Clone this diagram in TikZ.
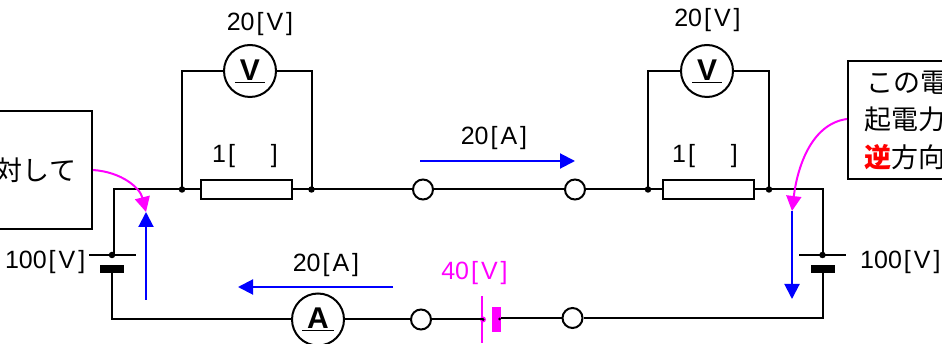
\documentclass[tikz,border=0pt]{standalone}
\usepackage{fontspec}
\setmainfont{Liberation Sans}
\newfontfamily\cjk{Noto Sans CJK JP}
\usepackage{xcolor}
\usetikzlibrary{arrows.meta}
\usetikzlibrary{shapes,positioning}
\definecolor{flowBlue}{HTML}{0000FF}
\definecolor{emfPink}{HTML}{FF00FF}
\tikzset{wire/.style={line width=2pt}}
\tikzset{label-text/.style={inner sep=0, font=\fontsize{25}{28}\selectfont}}
\tikzset{note-box/.style={draw, line width=2pt, inner ysep=0, inner xsep=16pt, font=\fontsize{27}{37.5}\selectfont\cjk}}
\tikzset{meter/.style={draw, circle, fill=white, line width=2pt, inner sep=0, minimum size=52pt,
    font=\fontsize{30}{30}\selectfont\bfseries}}
\tikzset{resistor/.style={draw, fill=white, line width=2pt, inner sep=0, minimum width=91pt, minimum height=19pt}}
\tikzset{terminal/.style={draw, circle, fill=white, line width=2pt, inner sep=0, minimum size=20pt}}
\tikzset{joint/.style={circle, fill=black, inner sep=0, minimum size=6.5pt}}
\tikzset{thin-plate/.style={fill=black, inner sep=0, minimum width=47pt, minimum height=2pt}}
\tikzset{thick-plate/.style={fill=black, inner sep=0, minimum width=24pt, minimum height=8pt}}
\tikzset{flow-arrow/.style={draw=flowBlue, line width=2pt, -{Triangle[length=15pt,width=15pt]}}}
\tikzset{emf-arrow/.style={draw=emfPink, line width=2pt, -{Triangle[length=15pt,width=15pt]}}}
\newcommand{\unitlabel}[2]{#1\kern2pt[\kern3pt#2\kern3pt]}
\newcommand{\meterlabel}[1]{\underline{\kern5pt#1\kern5pt}}
\begin{document}
\begin{tikzpicture}[x=1pt, y=-1pt]
    \useasboundingbox (0,0) rectangle (942,344);

    % note boxes
    \node[note-box, anchor=north east, minimum width=140pt, minimum height=118pt, align=right,
          text width=108pt] (noteL) at (93,110) {対して};
    \node[note-box, anchor=north west, minimum width=140pt, minimum height=118pt, align=left,
          text width=108pt] (noteR) at (847,60) {\hspace*{2pt}この電\\起電力\\{\bfseries\color{red}逆}方向};

    % parts
    \node[meter] (voltL) at (250,71) {\meterlabel{V}};
    \node[meter] (voltR) at (707,71) {\meterlabel{V}};
    \node[resistor] (resL) at (246.5,189.5) {};
    \node[resistor] (resR) at (708.5,189.5) {};
    \node[joint] (jointLa) at (182,189.5) {};
    \node[joint] (jointLb) at (311.5,189.5) {};
    \node[joint] (jointRa) at (648,189.5) {};
    \node[joint] (jointRb) at (769,189.5) {};
    \node[terminal] (termTa) at (423,189.5) {};
    \node[terminal] (termTb) at (575,189.5) {};
    \node[terminal] (termBa) at (421,319.5) {};
    \node[terminal] (termBb) at (572.5,318) {};
    \node[meter] (amp) at (318,319.5) {\meterlabel{A}};

    % batteries
    \node[thin-plate] (batLa) at (112,255) {};
    \node[thick-plate] (batLb) at (112,269) {};
    \node[joint] (batLdot) at (112,255) {};
    \coordinate (batLtop) at (114,255);
    \node[thin-plate] (batRa) at (822,255) {};
    \node[thick-plate] (batRb) at (822.5,269) {};
    \node[joint] (batRdot) at (822.5,255) {};
    \node[fill=emfPink, inner sep=0, minimum width=2pt, minimum height=47pt] (batMa) at (482,319.5) {};
    \node[fill=emfPink, inner sep=0, minimum width=9pt, minimum height=25pt] (batMb) at (496.5,319.5) {};
    \node[circle, fill=emfPink, inner sep=0, minimum size=6pt] (batMc) at (483,319.5) {};

    % wiring
    \draw[wire] (batLtop) |- (jointLa.center) -- (resL.west);
    \draw[wire] (resL.east) -- (jointLb.center) -- (termTa);
    \draw[wire] (termTa) -- (termTb);
    \draw[wire] (termTb) -- (jointRa.center) -- (resR.west);
    \draw[wire] (resR.east) -- (jointRb.center) -| (batRdot.center);
    \draw[wire] (jointLa.center) |- (voltL.west);
    \draw[wire] (jointLb.center) |- (voltL.east);
    \draw[wire] (jointRa.center) |- (voltR.west);
    \draw[wire] (jointRb.center) |- (voltR.east);
    \draw[wire] (batRb.center) |- (termBb.east);
    \draw[wire] (termBb.west) -- (termBb.west -| batMb.east);
    \draw[wire] (batMc.center) -- (termBa.east);
    \draw[wire] (termBa.west) -- (amp.east);
    \draw[wire] (amp.west) -| (batLb.center);
    \node[circle, fill=black, inner sep=0, minimum size=3pt] (batMd) at (483,319.5) {};
    \node[circle, fill=black, inner sep=0, minimum size=3pt] (batMe) at (499.5,319) {};

    % labels
    \node[label-text] (lblVL) at (260,24) {\unitlabel{20}{V}};
    \node[label-text] (lblVR) at (707.5,20) {\unitlabel{20}{V}};
    \node[label-text] (lblRL) at (245,156) {1\kern2pt[\kern36pt]};
    \node[label-text] (lblRR) at (705,156) {1\kern2pt[\kern36pt]};
    \node[label-text] (lblAT) at (494,138) {\unitlabel{20}{A}};
    \node[label-text] (lblAB) at (326,265) {\unitlabel{20}{A}};
    \node[label-text, text=emfPink] (lblEMF) at (474.5,273) {\unitlabel{40}{V}};
    \node[label-text, anchor=east] (lblBL) at (85.5,262) {\unitlabel{100}{V}};
    \node[label-text, anchor=west] (lblBR) at (860,262) {\unitlabel{100}{V}};

    % current arrows
    \coordinate (flowTa) at (420,161);
    \coordinate (flowTb) at (575,161);
    \coordinate (flowBa) at (393,287);
    \coordinate (flowBb) at (238,287);
    \coordinate (flowLa) at (146,300);
    \coordinate (flowLb) at (146,212);
    \coordinate (flowRa) at (792,211);
    \coordinate (flowRb) at (792,299);
    \draw[flow-arrow] (flowTa) -- (flowTb);
    \draw[flow-arrow] (flowBa) -- (flowBb);
    \draw[flow-arrow] (flowLa) -- (flowLb);
    \draw[flow-arrow] (flowRa) -- (flowRb);

    % callouts
    \draw[emf-arrow] (noteL.east |- 0,170) .. controls (122,172) and (140,188) .. (flowLb);
    \draw[emf-arrow] (noteR.west |- 0,119) .. controls (810,124) and (797,170) .. (flowRa);
\end{tikzpicture}
\end{document}
